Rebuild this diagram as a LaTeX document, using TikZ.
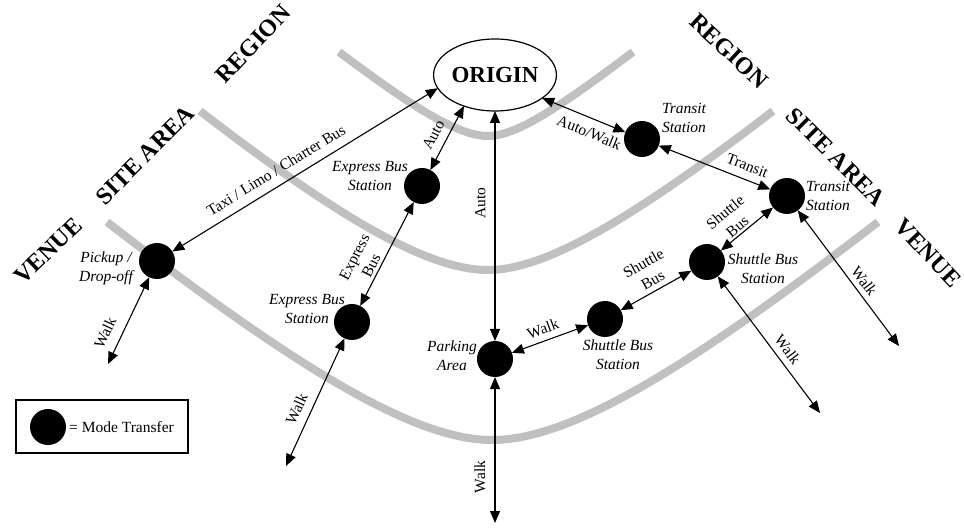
\documentclass[tikz,border=0pt]{standalone}
\usepackage{fontspec}
\setmainfont{Liberation Serif}
\usetikzlibrary{arrows.meta,shapes.geometric}
\definecolor{bandgray}{RGB}{192,192,192}
\begin{document}
\begin{tikzpicture}[x=1pt,y=-1pt,
  band/.style={line width=8pt, draw=bandgray},
  xfer/.style={circle, fill=black, minimum size=36pt, inner sep=0pt, outer sep=0pt},
  link/.style={line width=1.1pt, {Triangle[length=12pt,width=10pt]}-{Triangle[length=12pt,width=10pt]}},
  lbl/.style={font=\fontsize{15.5}{19}\selectfont, inner sep=2pt, align=center, sloped},
  place/.style={font=\itshape\fontsize{15.5}{19}\selectfont, align=center, inner sep=0pt},
  zone/.style={font=\bfseries\fontsize{24}{28}\selectfont, inner sep=0pt}
]
\useasboundingbox (0,0) rectangle (964,529);

% boundary bands
\draw[band] (339,52) .. controls (414,108) and (458,136) .. (488,136)
            .. controls (517,136) and (561,106) .. (633,52);
\draw[band] (200,111) .. controls (344,222) and (430,270) .. (488,270)
            .. controls (545,270) and (631,220) .. (773,111);
\draw[band] (107,222) .. controls (299,370) and (415,440) .. (492,440)
            .. controls (569,440) and (685,371) .. (878,222);

% zone names
\node[zone, rotate=47] (reg1) at (253,44) {REGION};
\node[zone, rotate=45] (site1) at (145,155) {SITE AREA};
\node[zone, rotate=44] (ven1) at (48,251) {VENUE};
\node[zone, rotate=-43] (reg2) at (729,51) {REGION};
\node[zone, rotate=-45] (site2) at (836,157) {SITE AREA};
\node[zone, rotate=-47] (ven2) at (928,253) {VENUE};

% origin
\node[ellipse, draw, line width=1.2pt, fill=white, minimum width=114pt, minimum height=72pt,
      inner sep=0pt, outer sep=0pt, font=\bfseries\fontsize{23}{26}\selectfont] (origin) at (495,75) {ORIGIN};

% mode transfer points
\node[xfer] (P1) at (157,261) {};
\node[xfer] (E1) at (422,186) {};
\node[xfer] (E2) at (352,322) {};
\node[xfer] (PA) at (495,359) {};
\node[xfer] (S1) at (605,319) {};
\node[xfer] (S2) at (707,262) {};
\node[xfer] (T1) at (642,139) {};
\node[xfer] (T2) at (787,196) {};

% free ends
\coordinate (pw) at (108,364);
\coordinate (ew) at (286,466);
\coordinate (paw) at (495,523);
\coordinate (sw) at (820,413);
\coordinate (tw) at (899,346);

% place names
\node[place] (P1t) at (106,268) {Pickup /\\Drop-off};
\node[place] (E1t) at (370,176) {Express Bus\\Station};
\node[place] (E2t) at (307,309) {Express Bus\\Station};
\node[place] (PAt) at (452,356) {Parking\\Area};
\node[place] (S1t) at (618,355) {Shuttle Bus\\Station};
\node[place] (S2t) at (763,269) {Shuttle Bus\\Station};
\node[place] (T1t) at (684,118) {Transit\\Station};
\node[place] (T2t) at (828,196) {Transit\\Station};

% connectors
\draw[link] (P1) -- (origin.193) node[lbl, pos=0.42, above=7pt] {Taxi / Limo / Charter Bus};
\draw[link] (E1) -- (origin.225) node[lbl, pos=0.45, above=6pt] {Auto};
\draw[link] (E2) -- (E1) node[lbl, pos=0.35, above=1pt] {Express\\Bus};
\draw[link] (PA) -- (origin.south) node[lbl, pos=0.6, above=7pt] {Auto};
\draw[link] (origin.334) -- (T1) node[lbl, pos=0.63, below=6pt] {Auto/Walk};
\draw[link] (T1) -- (T2) node[lbl, pos=0.75, above=6pt] {Transit};
\draw[link] (S2) -- (T2) node[lbl, pos=0.41, above=0pt] {Shuttle\\Bus};
\draw[link] (S1) -- (S2) node[lbl, pos=0.53, above=3pt] {Shuttle\\Bus};
\draw[link] (PA) -- (S1) node[lbl, pos=0.46, above=4pt] {Walk};
\draw[link] (P1) -- (pw) node[lbl, pos=0.72, above=8pt] {Walk};
\draw[link] (E2) -- (ew) node[lbl, pos=0.6, above=6pt] {Walk};
\draw[link] (paw) -- (PA) node[lbl, pos=0.315, above=7pt] {Walk};
\draw[link] (S2) -- (sw) node[lbl, pos=0.59, above=4pt] {Walk};
\draw[link] (T2) -- (tw) node[lbl, pos=0.57, above=3pt] {Walk};

% legend
\node[draw, line width=1.2pt, minimum width=172pt, minimum height=53pt, inner sep=0pt] (legend) at (102,426.5) {};
\node[xfer] (legdot) at (48,427) {};
\node[anchor=west, inner sep=0pt, font=\fontsize{15.5}{19}\selectfont] (legtxt) at (69,427) {= Mode Transfer};
\end{tikzpicture}
\end{document}
